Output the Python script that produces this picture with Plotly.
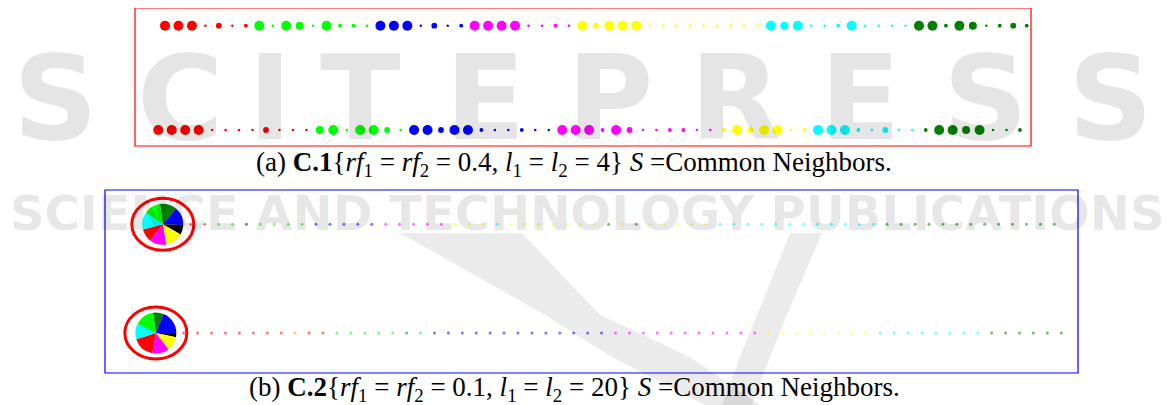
import plotly.graph_objects as go

# ---- data -------------------------------------------------------------
# colour code of every node, left to right (r red, g lime, b blue, m magenta,
# y yellow, c cyan, d dark green, k black, o orange)
a_top_colors = list("rrrrrrrgggggggggbbbbbbbmmmmmmmmyyyyyyyyyyyyyycccccccccccddddddddd")
a_bot_colors = list("rrrrrrrrrrrrgggggggbbbbbbbbbbbmmmmmmmmmmmmyyyyyyyccccccccdddddddd")
# node weight level (1 = smallest ... 5 = largest)
a_top_sizes = [5, 5, 5, 1, 3, 1, 2,
               5, 1, 5, 4, 1, 5, 2, 2, 1,
               5, 5, 5, 1, 3, 1, 2,
               5, 5, 5, 5, 1, 1, 2, 1,
               5, 3, 5, 5, 5, 1, 1, 1, 1, 1, 1, 1, 1, 1,
               5, 4, 5, 1, 1, 2, 5, 1, 1, 1, 1,
               5, 5, 2, 5, 4, 1, 2, 3, 2]
a_bot_sizes = [5, 5, 5, 5, 1, 1, 1, 1, 3, 1, 1, 1,
               4, 5, 1, 5, 5, 3, 1,
               5, 5, 3, 5, 5, 2, 1, 1, 2, 1, 1,
               5, 5, 5, 2, 5, 3, 1, 1, 2, 2, 1, 1,
               2, 5, 3, 5, 5, 1, 2,
               5, 5, 5, 2, 1, 3, 1, 1,
               2, 5, 5, 4, 5, 1, 1, 2]

# panel (b): first node is the merged pie node, the rest are single nodes
b_top_colors = list("rrrggbgggg" "bbbbbmmmmm" "yyycyyyyyy" "ydydyyyyyc"
                    "cccccccccccddddddddddddd")
b_bot_colors = list("rrrrrrrrrorr" "gggggdg" "bbbbbbbbbbbbb" "mmmmmmmmmmm"
                    "yyyyyyyy" "cccccccc" "dddddd")

pie_labels = ["d", "b", "k", "y", "m", "r", "c", "g"]
pie_top_values = [48, 52, 28, 50, 48, 37, 50, 47]
pie_bot_values = [30, 68, 12, 40, 48, 62, 45, 55]

cap_a = ("(a) <b>C.1</b>{<i>rf</i><sub>1</sub> = <i>rf</i><sub>2</sub> = 0.4, "
         "<i>l</i><sub>1</sub> = <i>l</i><sub>2</sub> = 4} <i>S</i> =Common Neighbors.")
cap_b = ("(b) <b>C.2</b>{<i>rf</i><sub>1</sub> = <i>rf</i><sub>2</sub> = 0.1, "
         "<i>l</i><sub>1</sub> = <i>l</i><sub>2</sub> = 20} <i>S</i> =Common Neighbors.")

# ---- styles -----------------------------------------------------------
palette = {"r": "#ff0000", "g": "#00ff00", "b": "#0000ff", "m": "#ff00ff",
           "y": "#ffff00", "c": "#00ffff", "d": "#008000", "k": "#000000",
           "o": "#ffa500"}
level_px = {1: 2.5, 2: 3.8, 3: 5.8, 4: 8, 5: 10}

OFF = 8                      # page margin around the figure
W, H = 1174 - OFF, 405 - OFF


def span(pa, va, pb, vb, size, vertical=False):
    # axis range so that value va lands on page pixel pa and vb on pb
    pa, pb = pa - OFF, pb - OFF
    k = (vb - va) / (pb - pa)
    lo, hi = va - pa * k, va + (size - pa) * k
    return [hi, lo] if vertical else [lo, hi]


def px(p, size, vertical=False):
    f = (p - OFF) / size
    return 1 - f if vertical else f


xa_range = span(165, 0, 1026.7, 64, W)
ya_range = span(25.7, 1, 130, 0, H, vertical=True)
xb_range = span(162.8, 0, 1054.3, 64, W)
yb_range = span(224.3, 1, 333, 0, H, vertical=True)
row_shift = 0.5  # lower row is drawn half a step to the left


def to_paper(v, rng):
    return (v - rng[0]) / (rng[1] - rng[0])


fig = go.Figure()

# panel (a)
for colors, sizes, row, shift in [(a_top_colors, a_top_sizes, 1, 0),
                                  (a_bot_colors, a_bot_sizes, 0, row_shift)]:
    fig.add_trace(go.Scatter(
        x=[i - shift for i in range(len(colors))], y=[row] * len(colors),
        mode="markers", xaxis="x", yaxis="y",
        marker=dict(size=[level_px[s] for s in sizes], opacity=1,
                    color=[palette[c] for c in colors], line=dict(width=0)),
        hoverinfo="skip"))

# panel (b)
for colors, values, row, shift in [(b_top_colors, pie_top_values, 1, 0),
                                   (b_bot_colors, pie_bot_values, 0, row_shift)]:
    cx = to_paper(-shift, xb_range)
    cy = to_paper(row, yb_range)
    r = 20.5
    fig.add_trace(go.Pie(
        labels=pie_labels, values=values, sort=False, direction="clockwise",
        rotation=-8, textinfo="none", hoverinfo="skip", showlegend=False,
        marker=dict(colors=[palette[c] for c in pie_labels], line=dict(width=0)),
        domain=dict(x=[cx - r / W, cx + r / W], y=[cy - r / H, cy + r / H])))
    fig.add_trace(go.Scatter(
        x=[i + 1 - shift for i in range(len(colors))], y=[row] * len(colors),
        mode="markers", xaxis="x2", yaxis="y2",
        marker=dict(size=3, opacity=0.55,
                    color=[palette[c] for c in colors], line=dict(width=0)),
        hoverinfo="skip"))
    fig.add_shape(type="circle", xref="x2", yref="y2",
                  xsizemode="pixel", ysizemode="pixel",
                  xanchor=-shift, yanchor=row, x0=-31, x1=31, y0=-26, y1=26,
                  line=dict(color="#ff0000", width=3))

# frames
fig.add_shape(type="rect", xref="paper", yref="paper",
              x0=px(135, W), x1=px(1031, W),
              y0=px(146, H, True), y1=px(8, H, True),
              line=dict(color="#ff0000", width=1.2))
fig.add_shape(type="rect", xref="paper", yref="paper",
              x0=px(105, W), x1=px(1078, W),
              y0=px(373, H, True), y1=px(190, H, True),
              line=dict(color="#0000ff", width=1.2))

# publisher watermark
wm = "rgba(0,0,0,0.10)"
for ch, xc in zip("SCITEPRESS", [55, 180, 270, 360, 485, 610, 735, 860, 985, 1110]):
    fig.add_annotation(x=px(xc, W), y=px(98, H, True), xref="paper", yref="paper",
                       xanchor="center", yanchor="middle",
                       text="<b>" + ch + "</b>", showarrow=False,
                       font=dict(family="DejaVu Sans", size=118, color=wm))
fig.add_annotation(x=px(587, W), y=px(213, H, True), xref="paper", yref="paper",
                   xanchor="center", yanchor="middle",
                   text="<b>SCIENCE AND TECHNOLOGY PUBLICATIONS</b>", showarrow=False,
                   font=dict(family="DejaVu Sans", size=48, color=wm))


def page_path(points):
    parts = [f"{cmd} {px(x, W):.4f},{px(y, H, True):.4f}" for cmd, x, y in points]
    return " ".join(parts) + " Z"


# logo swoosh behind panel (b)
swoosh_left = [("M", 400, 233), ("L", 522, 233), ("L", 600, 315), ("L", 690, 357),
               ("L", 760, 405), ("L", 705, 405), ("L", 612, 357), ("L", 545, 315)]
swoosh_right = [("M", 790, 233), ("L", 822, 233), ("L", 787, 315), ("L", 770, 357),
                ("L", 752, 405), ("L", 722, 405), ("L", 740, 357), ("L", 757, 315)]
for pts in [swoosh_left, swoosh_right]:
    fig.add_shape(type="path", xref="paper", yref="paper", layer="below",
                  path=page_path(pts), fillcolor="rgba(0,0,0,0.08)",
                  line=dict(width=0))

# captions
for text, yc in [(cap_a, 164), (cap_b, 389)]:
    fig.add_annotation(x=px(574, W), y=px(yc, H, True), xref="paper", yref="paper",
                       xanchor="center", yanchor="middle",
                       text=text, showarrow=False,
                       font=dict(family="Liberation Serif", size=27, color="black"))

hidden = dict(visible=False, showgrid=False, zeroline=False)
fig.update_layout(
    width=W, height=H, margin=dict(l=0, r=0, t=0, b=0),
    paper_bgcolor="white", plot_bgcolor="white", showlegend=False,
    xaxis=dict(range=xa_range, domain=[0, 1], **hidden),
    yaxis=dict(range=ya_range, domain=[0, 1], **hidden),
    xaxis2=dict(range=xb_range, domain=[0, 1], overlaying="x", **hidden),
    yaxis2=dict(range=yb_range, domain=[0, 1], overlaying="y", **hidden),
)
fig.write_html("out.html")
